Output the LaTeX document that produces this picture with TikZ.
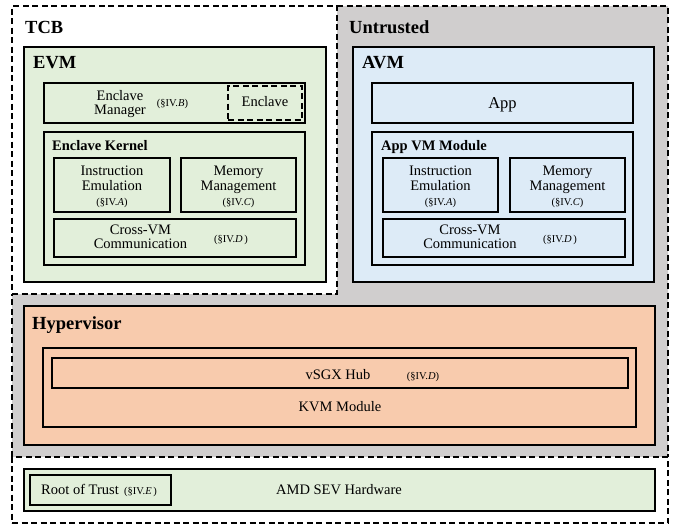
\documentclass[tikz,border=0pt]{standalone}
\usepackage{fontspec}
\setmainfont{Liberation Serif}
\usetikzlibrary{fit}
\definecolor{tgreen}{RGB}{226,239,218}
\definecolor{tblue}{RGB}{221,235,247}
\definecolor{torange}{RGB}{248,203,173}
\definecolor{tgray}{RGB}{208,206,206}
\begin{document}
\begin{tikzpicture}[x=1pt,y=-1pt,
  box/.style={draw=black, line width=1.7pt, inner sep=0pt},
  zone/.style={draw=black, line width=1.4pt, dash pattern=on 6pt off 3.5pt},
  big/.style={font=\fontsize{18.5}{20}\selectfont\bfseries, inner sep=0pt, anchor=base west},
  sub/.style={font=\fontsize{14.5}{16}\selectfont\bfseries, inner sep=0pt, anchor=base west},
  txt/.style={font=\fontsize{14.5}{14.3}\selectfont, inner sep=0pt, align=center, anchor=base},
  ref/.style={font=\fontsize{10.5}{12}\selectfont, inner sep=0pt, anchor=base},
]
\useasboundingbox[fill=white] (0,0) rectangle (678,525);
% zones
\fill[tgray] (337,6) -- (668,6) -- (668,457) -- (12,457) -- (12,294) -- (337,294) -- cycle;
\draw[zone] (337,6) -- (668,6) -- (668,457);
\draw[zone] (12,457) -- (12,294);
\node[zone, fill=white, inner sep=0pt, fit={(12,6) (337,294)}] (tcb) {};
\node[zone, fill=white, inner sep=0pt, fit={(12,457) (668,523)}] (hwzone) {};
\node[big] (tcbl) at (25,33.5) {TCB};
\node[big] (untl) at (349,33.5) {Untrusted};

% EVM
\node[box, fill=tgreen, fit={(24,47) (326,282)}] (evm) {};
\node[big] (evml) at (33,68.5) {EVM};
\node[box, fit={(44,83) (305,123)}] (em) {};
\node[txt] (emt) at (120,114.5) {Enclave\\Manager};
\node[ref] (emr) at (172.5,106.7) {(§IV.\textit{B})};
\node[zone, inner sep=0pt, fit={(228,86) (302,120)}] (encl) {};
\node[txt] (enclt) at (265,106.7) {Enclave};
\node[box, fit={(44,132) (305,265)}] (ek) {};
\node[sub] (ekl) at (52,150.7) {Enclave Kernel};
\node[box, fit={(54,158) (170,212)}] (eie) {};
\node[txt] (eiet) at (112,190) {Instruction\\Emulation};
\node[ref] (eier) at (112,205) {(§IV.\textit{A})};
\node[box, fit={(181,158) (296,212)}] (emm) {};
\node[txt] (emmt) at (238.5,190) {Memory\\Management};
\node[ref] (emmr) at (238.5,205) {(§IV.\textit{C})};
\node[box, fit={(54,219) (296,257)}] (ecv) {};
\node[txt] (ecvt) at (140.5,248.3) {Cross-VM\\Communication};
\node[ref] (ecvr) at (231,242.3) {(§IV.\textit{D}\,)};

% AVM
\node[box, fill=tblue, fit={(353,47) (654,282)}] (avm) {};
\node[big] (avml) at (362,68.5) {AVM};
\node[box, fit={(372,83) (633,123)}] (app) {};
\node[txt, font=\fontsize{16.5}{18}\selectfont] (appt) at (502.5,108.7) {App};
\node[box, fit={(372,132) (633,265)}] (avmm) {};
\node[sub] (avmml) at (381,150.7) {App VM Module};
\node[box, fit={(383,158) (498,212)}] (aie) {};
\node[txt] (aiet) at (440.5,190) {Instruction\\Emulation};
\node[ref] (aier) at (440.5,205) {(§IV.\textit{A})};
\node[box, fit={(510,158) (625,212)}] (amm) {};
\node[txt] (ammt) at (567.5,190) {Memory\\Management};
\node[ref] (ammr) at (567.5,205) {(§IV.\textit{C})};
\node[box, fit={(383,219) (625,257)}] (acv) {};
\node[txt] (acvt) at (470,248.3) {Cross-VM\\Communication};
\node[ref] (acvr) at (560,242.3) {(§IV.\textit{D}\,)};

% Hypervisor
\node[box, fill=torange, fit={(24,306) (655,445)}] (hyp) {};
\node[big] (hypl) at (32,329.5) {Hypervisor};
\node[box, fit={(43,348) (636,427)}] (kvm) {};
\node[box, fit={(52,358) (628,388)}] (vsgx) {};
\node[txt] (vsgxt) at (338,379.3) {vSGX Hub};
\node[ref] (vsgxr) at (423,379.3) {(§IV.\textit{D})};
\node[txt] (kvmt) at (340,411.7) {KVM Module};

% Hardware
\node[box, fill=tgreen, fit={(24,469) (655,511)}] (amd) {};
\node[box, fit={(30,475) (171,505)}] (rot) {};
\node[txt, anchor=base west] (rott) at (41,494.5) {Root of Trust};
\node[ref, anchor=base west] (rotr) at (124,494.5) {(§IV.\textit{E}\,)};
\node[txt] (amdt) at (339,494.5) {AMD SEV Hardware};
\end{tikzpicture}
\end{document}
